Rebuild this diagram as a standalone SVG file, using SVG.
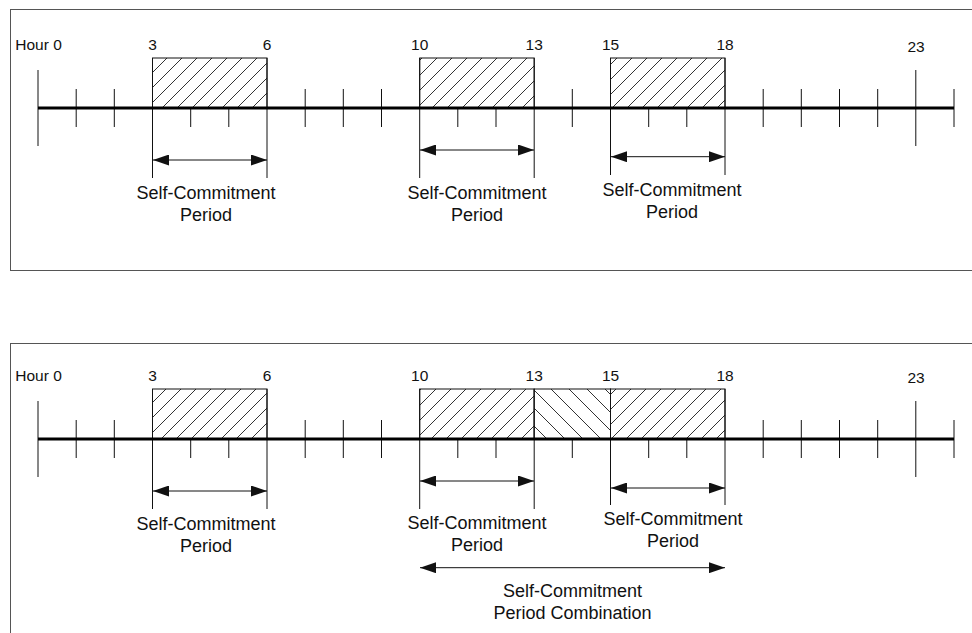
<svg xmlns="http://www.w3.org/2000/svg" width="972" height="633" viewBox="0 0 972 633">
<style>
  .frame{fill:none;stroke:#555;stroke-width:1}
  .axis{stroke:#000;stroke-width:3;fill:none}
  .tick{stroke:#111;stroke-width:1;fill:none}
  .box{stroke:#111;stroke-width:1}
  .lbl{font-family:"Liberation Sans",Arial,sans-serif;font-size:18px;fill:#111;text-anchor:middle}
  .hr{font-family:"Liberation Sans",Arial,sans-serif;font-size:15.5px;fill:#111;text-anchor:middle}
  .arr{stroke:#111;stroke-width:1;fill:none;marker-start:url(#ah);marker-end:url(#ah)}
</style>
<defs>
  <pattern id="hatchF" patternUnits="userSpaceOnUse" width="15" height="15">
    <rect width="15" height="15" fill="#fff"/>
    <path d="M-2,2 L2,-2 M0,15 L15,0 M13,17 L17,13" stroke="#333" stroke-width="1"/>
  </pattern>
  <pattern id="hatchB" patternUnits="userSpaceOnUse" width="18" height="18">
    <rect width="18" height="18" fill="#fff"/>
    <path d="M-2,16 L2,20 M0,0 L18,18 M16,-2 L20,2" stroke="#333" stroke-width="1"/>
  </pattern>
  <marker id="ah" viewBox="0 0 16 11" refX="16" refY="5.5" markerWidth="16" markerHeight="11" markerUnits="userSpaceOnUse" orient="auto-start-reverse">
    <path d="M0,0 L16,5.5 L0,11 z" fill="#111"/>
  </marker>
  <g id="ticks">
    <path class="tick" d="M38,70 V146 M76.2,89 V127 M114.3,89 V127 M190.7,89 V127 M228.8,89 V127 M305.2,89 V127 M343.3,89 V127 M381.5,89 V127 M457.8,89 V127 M496,89 V127 M572.3,89 V127 M648.7,89 V127 M686.8,89 V127 M763.2,89 V127 M801.3,89 V127 M839.5,89 V127 M877.7,89 V127 M915.8,70 V146 M954,89 V127"/>
  </g>
</defs>

<!-- Top panel -->
<g id="panel-top">
  <rect class="frame" x="10.5" y="9.5" width="975" height="261"/>
  <g id="top-axis">
    <use href="#ticks"/>
  </g>
  <g id="top-hours">
    <text class="hr" x="38.5" y="50">Hour 0</text>
    <text class="hr" x="152.5" y="50">3</text>
    <text class="hr" x="267" y="50">6</text>
    <text class="hr" x="419.7" y="50">10</text>
    <text class="hr" x="534.2" y="50">13</text>
    <text class="hr" x="610.5" y="50">15</text>
    <text class="hr" x="725" y="50">18</text>
    <text class="hr" x="916" y="51.5">23</text>
  </g>
  <g id="top-box-3-6">
    <rect class="box" x="152.5" y="58" width="114.5" height="50" fill="url(#hatchF)"/>
    <path class="tick" d="M152.5,58 V178 M267,58 V178"/>
  </g>
  <g id="top-box-10-13">
    <rect class="box" x="419.7" y="58" width="114.5" height="50" fill="url(#hatchF)"/>
    <path class="tick" d="M419.7,58 V178 M534.2,58 V178"/>
  </g>
  <g id="top-box-15-18">
    <rect class="box" x="610.5" y="58" width="114.5" height="50" fill="url(#hatchF)"/>
    <path class="tick" d="M610.5,58 V175 M725,58 V175"/>
  </g>
  <line class="axis" x1="38" y1="108" x2="954" y2="108"/>
  <g id="top-label-1">
    <text class="lbl" x="206" y="199.3">Self-Commitment</text>
    <text class="lbl" x="206" y="221">Period</text>
  </g>
  <g id="top-label-2">
    <text class="lbl" x="477" y="199.3">Self-Commitment</text>
    <text class="lbl" x="477" y="221">Period</text>
  </g>
  <g id="top-label-3">
    <text class="lbl" x="672" y="196">Self-Commitment</text>
    <text class="lbl" x="672" y="217.5">Period</text>
  </g>
</g>

<!-- Bottom panel -->
<g id="panel-bottom">
  <rect class="frame" x="10.5" y="343.5" width="975" height="300"/>
  <g id="bottom-axis">
    <use href="#ticks" transform="translate(0,331)"/>
  </g>
  <g id="bottom-hours">
    <text class="hr" x="38.5" y="381">Hour 0</text>
    <text class="hr" x="152.5" y="381">3</text>
    <text class="hr" x="267" y="381">6</text>
    <text class="hr" x="419.7" y="381">10</text>
    <text class="hr" x="534.2" y="381">13</text>
    <text class="hr" x="610.5" y="381">15</text>
    <text class="hr" x="725" y="381">18</text>
    <text class="hr" x="916" y="382.5">23</text>
  </g>
  <g id="bottom-box-3-6">
    <rect class="box" x="152.5" y="389" width="114.5" height="50" fill="url(#hatchF)"/>
    <path class="tick" d="M152.5,389 V509 M267,389 V509"/>
  </g>
  <g id="bottom-box-10-13">
    <rect class="box" x="419.7" y="389" width="114.5" height="50" fill="url(#hatchF)"/>
  </g>
  <g id="bottom-box-13-15">
    <rect class="box" x="534.2" y="389" width="76.3" height="50" fill="url(#hatchB)"/>
  </g>
  <g id="bottom-box-15-18">
    <rect class="box" x="610.5" y="389" width="114.5" height="50" fill="url(#hatchF)"/>
  </g>
  <path class="tick" d="M419.7,389 V509 M534.2,389 V509 M610.5,389 V505 M725,389 V505"/>
  <line class="axis" x1="38" y1="439" x2="954" y2="439"/>
  <g id="bottom-label-1">
    <text class="lbl" x="206" y="529.5">Self-Commitment</text>
    <text class="lbl" x="206" y="551.5">Period</text>
  </g>
  <g id="bottom-label-2">
    <text class="lbl" x="477" y="528.7">Self-Commitment</text>
    <text class="lbl" x="477" y="550.7">Period</text>
  </g>
  <g id="bottom-label-3">
    <text class="lbl" x="673" y="525">Self-Commitment</text>
    <text class="lbl" x="673" y="547.3">Period</text>
  </g>
  <g id="bottom-label-combo">
    <text class="lbl" x="572.5" y="596.7">Self-Commitment</text>
    <text class="lbl" x="572.5" y="619">Period Combination</text>
  </g>
</g>

<!-- Connectors -->
<g id="connectors">
  <line class="arr" x1="153" y1="160" x2="267" y2="160"/>
  <line class="arr" x1="420" y1="150" x2="534" y2="150"/>
  <line class="arr" x1="611" y1="156.7" x2="725" y2="156.7"/>
  <line class="arr" x1="153" y1="491" x2="267" y2="491"/>
  <line class="arr" x1="420" y1="481" x2="534" y2="481"/>
  <line class="arr" x1="611" y1="488" x2="725" y2="488"/>
  <line class="arr" x1="420" y1="567.7" x2="725" y2="567.7"/>
</g>
</svg>
